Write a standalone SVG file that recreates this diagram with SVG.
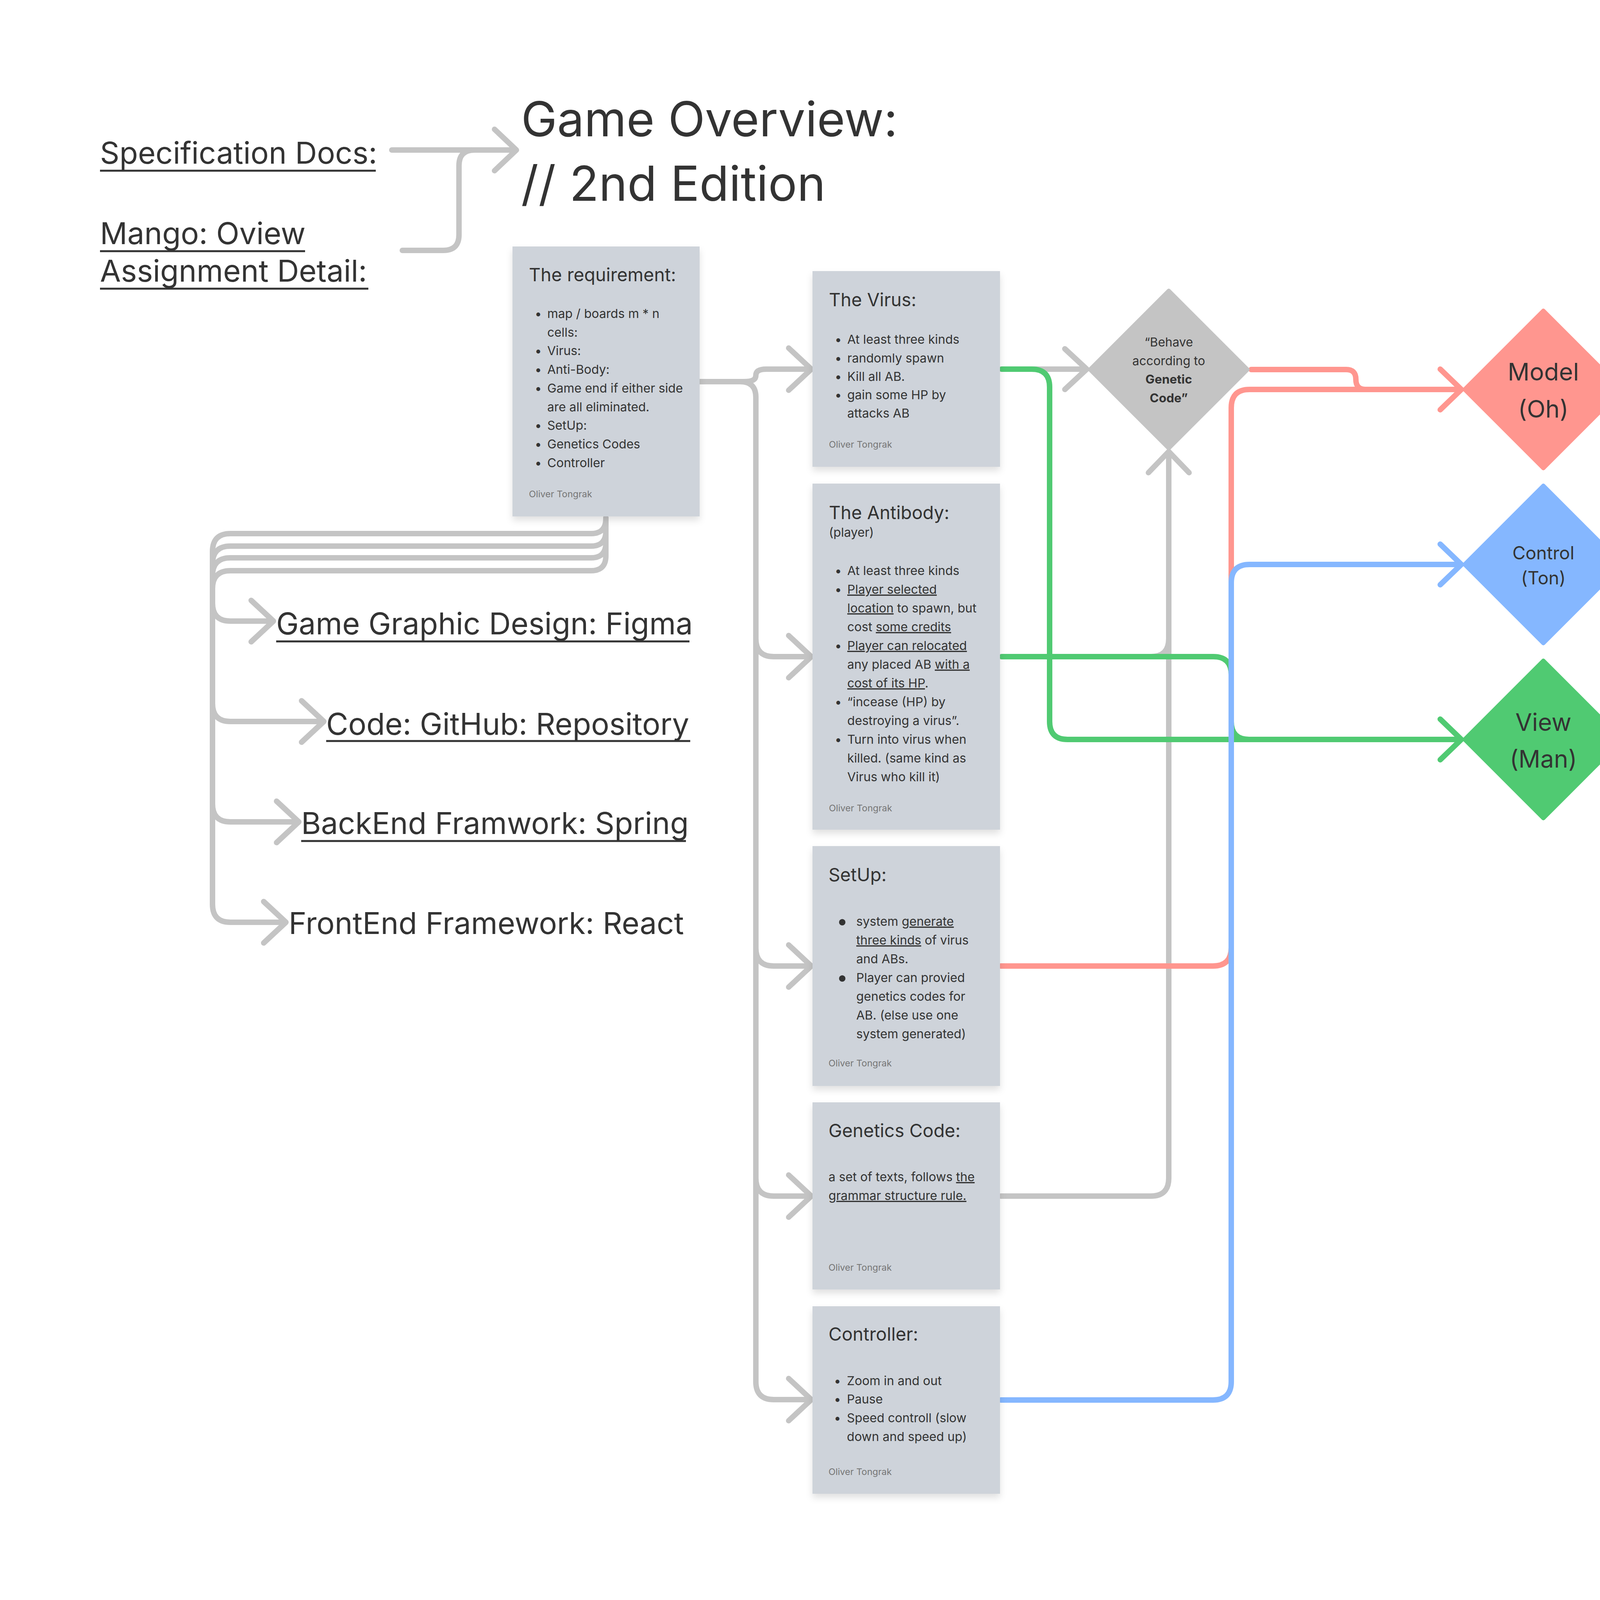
<svg xmlns="http://www.w3.org/2000/svg" width="4415" height="4116" viewBox="0 0 4415 4116">
<style>
text{font-family:Inter,"Noto Sans","Liberation Sans",sans-serif;fill:#333333}
.big{font-size:123.5px}
.lbl{font-size:77.5px}
.lnk{font-size:77.5px}
.ul{stroke:#333333;stroke-width:5;fill:none}
.u{text-decoration:underline}
.ct{font-size:46.5px}
.cb{font-size:31.7px}
.au{font-size:23.5px;fill:#757575}
.dt{font-size:31.5px;text-anchor:middle}
.dm{font-size:62px;text-anchor:middle}
.dc{font-size:46px;text-anchor:middle}
.bl{text-anchor:middle}
.card{fill:#CED3DA;filter:url(#sh)}
.g{fill:none;stroke:#C4C4C4;stroke-width:14;stroke-linecap:round;stroke-linejoin:round}
.r{fill:none;stroke:#FF968F;stroke-width:14;stroke-linecap:round;stroke-linejoin:round}
.gr{fill:none;stroke:#50CA72;stroke-width:14;stroke-linecap:round;stroke-linejoin:round}
.b{fill:none;stroke:#85B7FF;stroke-width:14;stroke-linecap:round;stroke-linejoin:round}
</style>
<defs>
<filter id="sh" x="-10%" y="-10%" width="120%" height="125%">
<feDropShadow dx="0" dy="10" stdDeviation="9" flood-color="#000" flood-opacity="0.12"/>
</filter>
</defs>
<rect width="4415" height="4116" fill="#ffffff"/>

<g id="title">
<text class="big" x="1334" y="349">Game Overview:</text>
<text class="big" x="1334" y="514">// 2nd Edition</text>
</g>
<g id="spec-docs"><text class="lbl" x="256" y="419">Specification Docs:</text><line class="ul" x1="256" y1="437" x2="962" y2="437"/></g>
<g id="mango"><text class="lbl" x="256" y="625">Mango: Oview</text><line class="ul" x1="256" y1="643" x2="781" y2="643"/><text class="lbl" x="256" y="721">Assignment Detail:</text><line class="ul" x1="256" y1="739" x2="943" y2="739"/></g>

<g id="connectors">
<!-- title -->
<path class="g" d="M1003 384 H1320"/>
<path class="g" d="M1030 641 H1135 Q1175 641 1175 601 V424 Q1175 384 1215 384 H1320"/>
<path class="g" d="M1266 331 L1322 384 L1266 437"/>
<!-- requirement bottom bundle -->
<path class="g" d="M1551 1326 V1328 Q1551 1366 1513 1366 H590 Q544 1366 544 1412 V2315 Q544 2361 590 2361 H730"/>
<path class="g" d="M1551 1326 V1360 Q1551 1398 1513 1398 H590 Q544 1398 544 1444 V2058 Q544 2104 590 2104 H763"/>
<path class="g" d="M1551 1326 V1390 Q1551 1428 1513 1428 H590 Q544 1428 544 1474 V1801 Q544 1847 590 1847 H827"/>
<path class="g" d="M1551 1326 V1423 Q1551 1461 1513 1461 H590 Q544 1461 544 1507 V1544 Q544 1590 590 1590 H698"/>
<path class="g" d="M643 1537 L700 1590 L643 1643"/>
<path class="g" d="M772 1794 L829 1847 L772 1900"/>
<path class="g" d="M708 2051 L765 2104 L708 2157"/>
<path class="g" d="M675 2308 L732 2361 L675 2414"/>
<!-- requirement to cards -->
<path class="g" d="M1793 977 H1903 C1930 977 1935 970 1935 961 C1935 951 1942 945 1962 945 H2075"/>
<path class="g" d="M1793 977 H1895 Q1935 977 1935 1017 V1635 Q1935 1681 1981 1681 H2075"/>
<path class="g" d="M1935 1630 V2427 Q1935 2473 1981 2473 H2075"/>
<path class="g" d="M1935 2420 V3016 Q1935 3062 1981 3062 H2075"/>
<path class="g" d="M1935 3010 V3537 Q1935 3583 1981 3583 H2075"/>
<path class="g" d="M2019 891 L2077 945 L2019 999"/>
<path class="g" d="M2019 1627 L2077 1681 L2019 1735"/>
<path class="g" d="M2019 2419 L2077 2473 L2019 2527"/>
<path class="g" d="M2019 3008 L2077 3062 L2019 3116"/>
<path class="g" d="M2019 3529 L2077 3583 L2019 3637"/>
<!-- to Behave diamond -->
<path class="g" d="M2562 945 H2780"/>
<path class="g" d="M2726 893 L2782 945 L2726 997"/>
<path class="g" d="M2562 3062 H2946 Q2992 3062 2992 3016 V1158"/>
<path class="g" d="M2562 1681 H2946 Q2992 1681 2992 1635 V1400"/>
<path class="g" d="M2940 1210 L2992 1156 L3044 1210"/>
<!-- red -->
<path class="r" d="M3203 946 H3446 Q3471 946 3471 971 Q3471 997 3496 997 H3739"/>
<path class="r" d="M2562 2473 H3105 Q3152 2473 3152 2426 V1044 Q3152 997 3199 997 H3739"/>
<path class="r" d="M3687 945 L3741 997 L3687 1049"/>
<!-- green -->
<path class="gr" d="M2565 945 H2641 Q2687 945 2687 991 V1847 Q2687 1893 2733 1893 H3739"/>
<path class="gr" d="M2565 1681 H3106 Q3152 1681 3152 1727 V1847 Q3152 1893 3198 1893 H3739"/>
<path class="gr" d="M3687 1841 L3741 1893 L3687 1945"/>
<!-- blue -->
<path class="b" d="M2562 3584 H3105 Q3152 3584 3152 3537 V1492 Q3152 1445 3199 1445 H3739"/>
<path class="b" d="M3687 1393 L3741 1445 L3687 1497"/>
</g>

<g id="link-figma"><text class="lnk" x="707" y="1624">Game Graphic Design: Figma</text><line class="ul" x1="707" y1="1642" x2="1765" y2="1642"/></g>
<g id="link-github"><text class="lnk" x="835" y="1881">Code: GitHub: Repository</text><line class="ul" x1="835" y1="1897" x2="1767" y2="1897"/></g>
<g id="link-spring"><text class="lnk" x="771" y="2135">BackEnd Framwork: Spring</text><line class="ul" x1="771" y1="2153" x2="1756" y2="2153"/></g>
<g id="link-react"><text class="lnk" x="739" y="2391">FrontEnd Framework: React</text></g>

<g id="card-requirement">
<rect class="card" x="1312" y="631" width="479" height="691"/>
<text class="ct" x="1354" y="720">The requirement:</text>
<text class="cb bl" x="1378" y="814">•</text><text class="cb" x="1401" y="814">map / boards m * n</text>
<text class="cb" x="1401" y="862">cells:</text>
<text class="cb bl" x="1378" y="909">•</text><text class="cb" x="1401" y="909">Virus:</text>
<text class="cb bl" x="1378" y="957">•</text><text class="cb" x="1401" y="957">Anti-Body:</text>
<text class="cb bl" x="1378" y="1005">•</text><text class="cb" x="1401" y="1005">Game end if either side</text>
<text class="cb" x="1401" y="1053">are all eliminated.</text>
<text class="cb bl" x="1378" y="1100">•</text><text class="cb" x="1401" y="1100">SetUp:</text>
<text class="cb bl" x="1378" y="1148">•</text><text class="cb" x="1401" y="1148">Genetics Codes</text>
<text class="cb bl" x="1378" y="1196">•</text><text class="cb" x="1401" y="1196">Controller</text>
<text class="au" x="1354" y="1273">Oliver Tongrak</text>
</g>

<g id="card-virus">
<rect class="card" x="2080" y="694" width="480" height="501"/>
<text class="ct" x="2122" y="784">The Virus:</text>
<text class="cb bl" x="2146" y="880">•</text><text class="cb" x="2169" y="880">At least three kinds</text>
<text class="cb bl" x="2146" y="928">•</text><text class="cb" x="2169" y="928">randomly spawn</text>
<text class="cb bl" x="2146" y="975">•</text><text class="cb" x="2169" y="975">Kill all AB.</text>
<text class="cb bl" x="2146" y="1022">•</text><text class="cb" x="2169" y="1022">gain some HP by</text>
<text class="cb" x="2169" y="1069">attacks AB</text>
<text class="au" x="2122" y="1146">Oliver Tongrak</text>
</g>

<g id="card-antibody">
<rect class="card" x="2080" y="1238" width="480" height="886"/>
<text class="ct" x="2122" y="1329">The Antibody:</text>
<text class="cb" x="2122" y="1374">(player)</text>
<text class="cb bl" x="2146" y="1472">•</text><text class="cb" x="2169" y="1472">At least three kinds</text>
<text class="cb bl" x="2146" y="1520">•</text><text class="cb" x="2169" y="1520"><tspan class="u">Player selected</tspan></text>
<text class="cb" x="2169" y="1568"><tspan class="u">location</tspan> to spawn, but</text>
<text class="cb" x="2169" y="1616">cost <tspan class="u">some credits</tspan></text>
<text class="cb bl" x="2146" y="1664">•</text><text class="cb" x="2169" y="1664"><tspan class="u">Player can relocated</tspan></text>
<text class="cb" x="2169" y="1712">any placed AB <tspan class="u">with a</tspan></text>
<text class="cb" x="2169" y="1760"><tspan class="u">cost of its HP</tspan>.</text>
<text class="cb bl" x="2146" y="1808">•</text><text class="cb" x="2169" y="1808">“incease (HP) by</text>
<text class="cb" x="2169" y="1856">destroying a virus”.</text>
<text class="cb bl" x="2146" y="1904">•</text><text class="cb" x="2169" y="1904">Turn into virus when</text>
<text class="cb" x="2169" y="1952">killed. (same kind as</text>
<text class="cb" x="2169" y="2000">Virus who kill it)</text>
<text class="au" x="2122" y="2077">Oliver Tongrak</text>
</g>

<g id="card-setup">
<rect class="card" x="2080" y="2166" width="480" height="614"/>
<text class="ct" x="2121" y="2256">SetUp:</text>
<text class="bl" font-size="52" x="2156" y="2376">•</text><text class="cb" x="2192" y="2370">system <tspan class="u">generate</tspan></text>
<text class="cb" x="2192" y="2418"><tspan class="u">three kinds</tspan> of virus</text>
<text class="cb" x="2192" y="2466">and ABs.</text>
<text class="bl" font-size="52" x="2156" y="2520">•</text><text class="cb" x="2192" y="2514">Player can provied</text>
<text class="cb" x="2192" y="2562">genetics codes for</text>
<text class="cb" x="2192" y="2610">AB. (else use one</text>
<text class="cb" x="2192" y="2658">system generated)</text>
<text class="au" x="2121" y="2730">Oliver Tongrak</text>
</g>

<g id="card-genetics">
<rect class="card" x="2080" y="2822" width="480" height="479"/>
<text class="ct" x="2121" y="2911">Genetics Code:</text>
<text class="cb" x="2121" y="3024">a set of texts, follows <tspan class="u">the</tspan></text>
<text class="cb" x="2121" y="3072"><tspan class="u">grammar structure rule.</tspan></text>
<text class="au" x="2121" y="3253">Oliver Tongrak</text>
</g>

<g id="card-controller">
<rect class="card" x="2080" y="3344" width="480" height="480"/>
<text class="ct" x="2121" y="3432">Controller:</text>
<text class="cb bl" x="2144" y="3546">•</text><text class="cb" x="2168" y="3546">Zoom in and out</text>
<text class="cb bl" x="2144" y="3593">•</text><text class="cb" x="2168" y="3593">Pause</text>
<text class="cb bl" x="2144" y="3641">•</text><text class="cb" x="2168" y="3641">Speed controll (slow</text>
<text class="cb" x="2168" y="3689">down and speed up)</text>
<text class="au" x="2121" y="3776">Oliver Tongrak</text>
</g>

<g id="diamond-behave">
<polygon points="2992,744 3194,946 2992,1148 2790,946" fill="#C4C4C4" stroke="#C4C4C4" stroke-width="10" stroke-linejoin="round"/>
<text class="dt" x="2992" y="887">“Behave</text>
<text class="dt" x="2992" y="935">according to</text>
<text class="dt" x="2992" y="982" font-weight="bold">Genetic</text>
<text class="dt" x="2992" y="1030" font-weight="bold">Code”</text>
</g>

<g id="diamond-model">
<polygon points="3951,795 4153,997 3951,1199 3749,997" fill="#FF968F" stroke="#FF968F" stroke-width="10" stroke-linejoin="round"/>
<text class="dm" x="3951" y="974">Model</text>
<text class="dm" x="3951" y="1069">(Oh)</text>
</g>

<g id="diamond-control">
<polygon points="3951,1243 4153,1445 3951,1647 3749,1445" fill="#85B7FF" stroke="#85B7FF" stroke-width="10" stroke-linejoin="round"/>
<text class="dc" x="3951" y="1432">Control</text>
<text class="dc" x="3951" y="1496">(Ton)</text>
</g>

<g id="diamond-view">
<polygon points="3951,1691 4153,1893 3951,2095 3749,1893" fill="#50CA72" stroke="#50CA72" stroke-width="10" stroke-linejoin="round"/>
<text class="dm" x="3951" y="1871">View</text>
<text class="dm" x="3951" y="1965">(Man)</text>
</g>
</svg>
